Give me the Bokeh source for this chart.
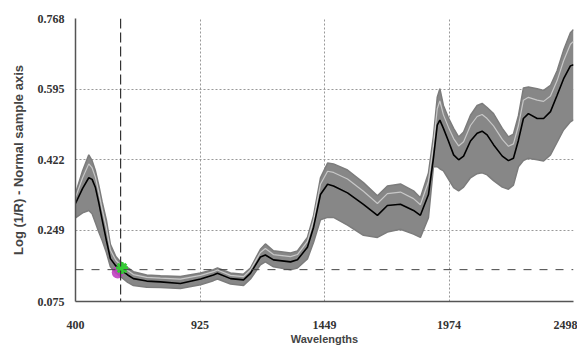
from bokeh.plotting import figure
from bokeh.models import Range1d, FixedTicker, Span, ColumnDataSource
from bokeh.embed import file_html
from bokeh.resources import INLINE

wl = [400, 430, 456, 470, 484, 498, 512, 530, 547, 570,
      590, 620, 644, 700, 758, 842, 927, 981, 998, 1053,
      1108, 1137, 1179, 1200, 1234, 1306, 1335, 1377, 1403, 1432,
      1462, 1487, 1546, 1613, 1672, 1714, 1769, 1824, 1853, 1887,
      1908, 1924, 1935, 1950, 1971, 1993, 2014, 2035, 2064, 2092,
      2113, 2134, 2161, 2198, 2224, 2245, 2266, 2287, 2308, 2345,
      2372, 2401, 2429, 2456, 2485, 2498]

# mean spectrum (black line)
mean_spec = [0.315, 0.352, 0.378, 0.374, 0.354, 0.317, 0.276, 0.225, 0.180, 0.162,
             0.153, 0.140, 0.131, 0.125, 0.123, 0.119, 0.130, 0.140, 0.144, 0.131,
             0.128, 0.144, 0.184, 0.189, 0.177, 0.172, 0.177, 0.208, 0.257, 0.337,
             0.362, 0.358, 0.341, 0.313, 0.286, 0.310, 0.313, 0.298, 0.286, 0.337,
             0.426, 0.507, 0.519, 0.499, 0.468, 0.434, 0.422, 0.431, 0.468, 0.487,
             0.492, 0.483, 0.459, 0.431, 0.420, 0.426, 0.470, 0.523, 0.535, 0.523,
             0.523, 0.540, 0.580, 0.620, 0.652, 0.655]

# upper envelope of the sample spectra
upper_spec = [0.340, 0.395, 0.434, 0.420, 0.395, 0.360, 0.320, 0.275, 0.215, 0.185,
              0.172, 0.158, 0.148, 0.140, 0.138, 0.136, 0.145, 0.153, 0.157, 0.145,
              0.142, 0.157, 0.203, 0.216, 0.199, 0.194, 0.199, 0.232, 0.286, 0.378,
              0.414, 0.412, 0.397, 0.366, 0.334, 0.358, 0.363, 0.346, 0.329, 0.390,
              0.480, 0.575, 0.596, 0.555, 0.525, 0.499, 0.478, 0.490, 0.531, 0.555,
              0.560, 0.550, 0.535, 0.499, 0.478, 0.485, 0.530, 0.598, 0.600, 0.596,
              0.592, 0.604, 0.640, 0.690, 0.733, 0.741]

# lower envelope of the sample spectra
lower_spec = [0.280, 0.292, 0.298, 0.290, 0.268, 0.245, 0.225, 0.195, 0.160, 0.145,
              0.136, 0.122, 0.114, 0.110, 0.109, 0.107, 0.116, 0.126, 0.130, 0.118,
              0.114, 0.130, 0.165, 0.172, 0.160, 0.153, 0.157, 0.179, 0.220, 0.275,
              0.281, 0.281, 0.262, 0.237, 0.232, 0.245, 0.252, 0.240, 0.232, 0.280,
              0.405, 0.405, 0.400, 0.395, 0.375, 0.354, 0.346, 0.355, 0.378, 0.388,
              0.390, 0.385, 0.371, 0.355, 0.350, 0.360, 0.405, 0.420, 0.426, 0.422,
              0.419, 0.434, 0.465, 0.495, 0.515, 0.520]

# a light-coloured sample spectrum visible inside the band
light_spec = [0.330, 0.378, 0.412, 0.402, 0.379, 0.343, 0.302, 0.255, 0.201, 0.176,
              0.164, 0.151, 0.141, 0.134, 0.132, 0.130, 0.139, 0.148, 0.152, 0.139,
              0.136, 0.152, 0.195, 0.205, 0.190, 0.185, 0.190, 0.222, 0.274, 0.362,
              0.394, 0.391, 0.375, 0.345, 0.315, 0.339, 0.343, 0.327, 0.312, 0.369,
              0.458, 0.547, 0.566, 0.532, 0.502, 0.474, 0.456, 0.466, 0.506, 0.528,
              0.533, 0.523, 0.505, 0.472, 0.455, 0.461, 0.506, 0.568, 0.575, 0.568,
              0.565, 0.578, 0.616, 0.664, 0.705, 0.712]

x_ticks = [400, 925, 1449, 1974, 2498]
y_ticks = [0.075, 0.249, 0.422, 0.595, 0.768]
y_tick_labels = ["0.075", "0.249", "0.422", "0.595", "0.768"]

cursor_x = 590
cursor_y = 0.153
marker_magenta = (578, 0.146)
marker_green = (596, 0.157)

src = ColumnDataSource(dict(wl=wl, mean=mean_spec, up=upper_spec, lo=lower_spec, light=light_spec))

p = figure(width=577, height=347, output_backend="svg", toolbar_location=None,
           x_range=Range1d(400, 2498), y_range=Range1d(0.075, 0.768),
           min_border_left=75, min_border_right=4, min_border_top=18, min_border_bottom=41)
p.background_fill_color = "white"
p.border_fill_color = "white"
p.outline_line_color = None

# band of sample spectra
p.varea(x="wl", y1="lo", y2="up", source=src, fill_color="#878787")
p.line(x="wl", y="up", source=src, line_color="#7c7c7c", line_width=1.5)
p.line(x="wl", y="lo", source=src, line_color="#7c7c7c", line_width=1.5)
p.line(x="wl", y="light", source=src, line_color="#c8c8c8", line_width=1.2)
p.line(x="wl", y="mean", source=src, line_color="black", line_width=1.6)

# cursor lines
p.add_layout(Span(location=cursor_x, dimension="height", line_color="#333333",
                  line_width=1.2, line_dash="10 4"))
p.add_layout(Span(location=cursor_y, dimension="width", line_color="#444444",
                  line_width=1.0, line_dash="8 8"))

p.scatter([marker_magenta[0]], [marker_magenta[1]], marker="circle", size=12,
          fill_color="#c040c0", line_color=None, alpha=0.9)
p.scatter([marker_green[0]], [marker_green[1]], marker="asterisk", size=12,
          line_color="#33cc33", line_width=3)

# axes
p.xaxis.ticker = FixedTicker(ticks=x_ticks)
p.yaxis.ticker = FixedTicker(ticks=y_ticks)
p.yaxis.major_label_overrides = {t: s for t, s in zip(y_ticks, y_tick_labels)}
for ax in (p.xaxis[0], p.yaxis[0]):
    ax.axis_line_color = "#555555"
    ax.axis_line_width = 1.5
    ax.major_tick_line_color = None
    ax.minor_tick_line_color = None
    ax.major_label_text_font = "Liberation Sans Narrow"
    ax.major_label_text_font_style = "bold"
    ax.major_label_text_font_size = "12px"
    ax.major_label_text_color = "#333333"
    ax.axis_label_text_font = "Liberation Sans"
    ax.axis_label_text_font_style = "bold"
    ax.axis_label_text_color = "#444444"

p.xaxis.axis_label = "Wavelengths"
p.xaxis.axis_label_text_font_size = "11px"
p.xaxis.major_label_standoff = 13
p.xaxis.axis_label_standoff = 1

p.yaxis.axis_label = "Log (1/R) - Normal sample axis"
p.yaxis.axis_label_text_font_size = "13px"
p.yaxis.major_label_standoff = 5
p.yaxis.axis_label_standoff = 9

p.xgrid.ticker = FixedTicker(ticks=x_ticks)
p.ygrid.ticker = FixedTicker(ticks=y_ticks)
p.grid.grid_line_color = "#999999"
p.grid.grid_line_dash = "2 2"
p.grid.grid_line_width = 1

open("out.html", "w").write(file_html(p, INLINE))
